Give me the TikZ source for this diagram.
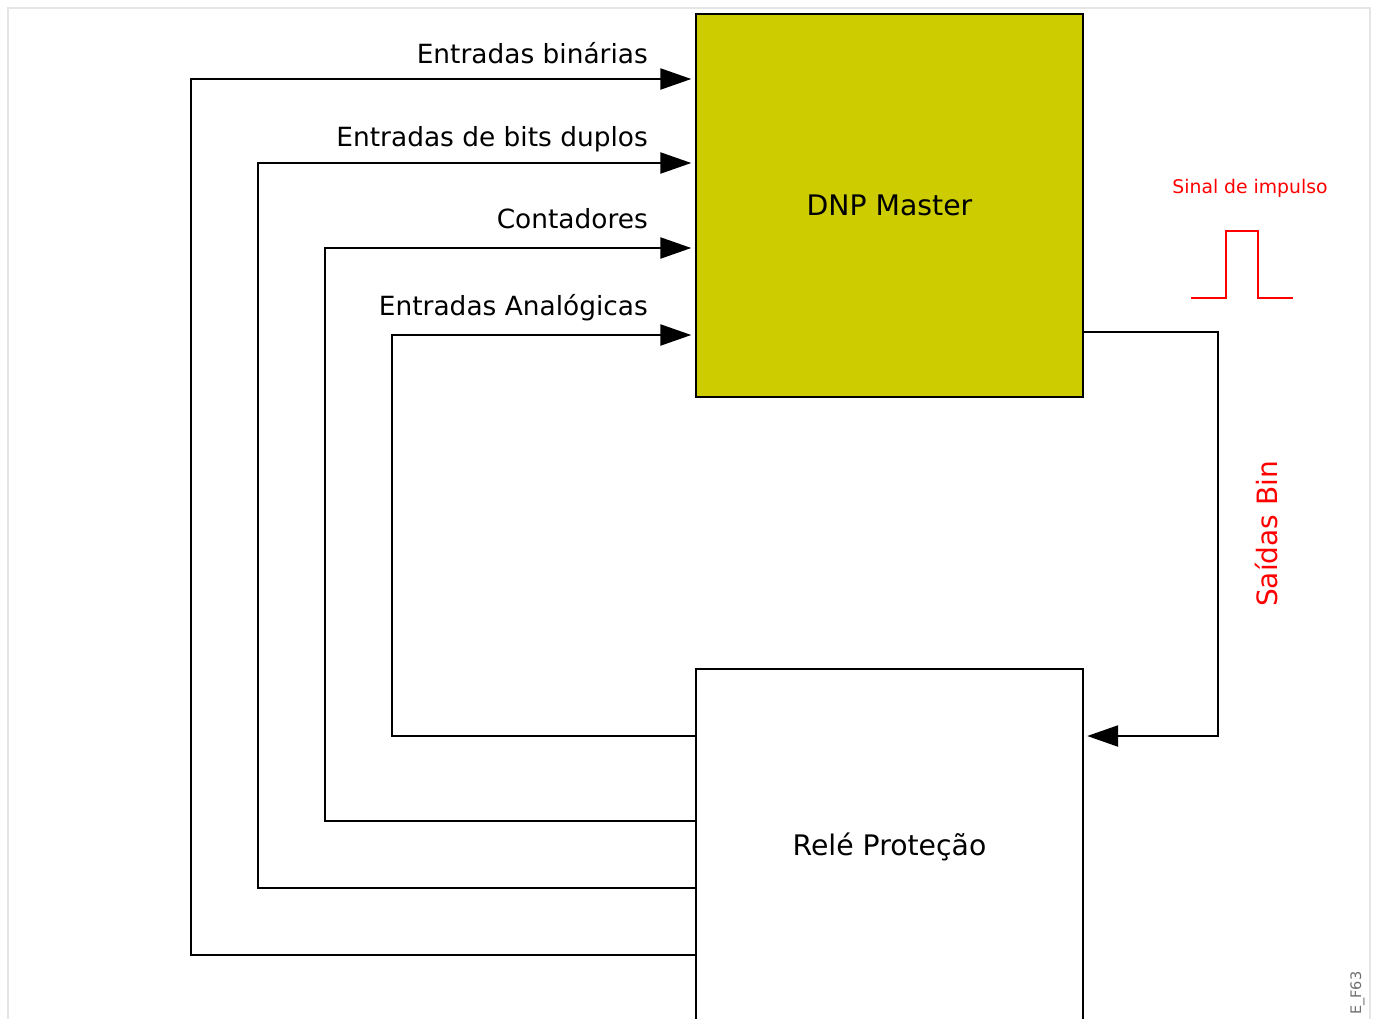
\documentclass[tikz,border=0pt]{standalone}
\usepackage{fontspec}
\setmainfont{DejaVu Sans}
\usetikzlibrary{arrows.meta}
\definecolor{dnpfill}{RGB}{204,204,0}
\definecolor{framegray}{RGB}{229,229,229}
\definecolor{sigred}{RGB}{255,0,0}
\definecolor{codegray}{RGB}{110,110,110}
\begin{document}
\begin{tikzpicture}[x=1pt,y=-1pt,
  wire/.style={line width=2.4pt},
  arr/.style={wire,-{Triangle[length=31pt,width=21pt]},shorten >=3.5pt},
  lbl/.style={anchor=base east,inner sep=0pt,font=\fontsize{26.4}{30}\selectfont},
  boxtxt/.style={font=\fontsize{28.3}{32}\selectfont},
  frame/.style={draw=framegray,line width=2pt}]
\useasboundingbox (0,0) rectangle (1376,1018);
% outer frame
\draw[frame] (8,1030) -- (8,8) -- (1370,8) -- (1370,1030);
% boxes
\node[draw,wire,fill=dnpfill,minimum width=387pt,minimum height=383pt,inner sep=0pt,boxtxt] (dnp) at (889.5,205.5) {DNP Master};
\node[minimum width=387pt,minimum height=356pt,inner sep=0pt,boxtxt] (rele) at (889.5,847) {Relé Proteção};
\draw[wire] (rele.south west) -- (rele.north west) -- (rele.north east) -- (rele.south east);
% left connectors
\coordinate (r1) at (rele.west |- 0,955);
\coordinate (r2) at (rele.west |- 0,888);
\coordinate (r3) at (rele.west |- 0,821);
\coordinate (r4) at (rele.west |- 0,736);
\coordinate (d1) at (dnp.west |- 0,79);
\coordinate (d2) at (dnp.west |- 0,163);
\coordinate (d3) at (dnp.west |- 0,248);
\coordinate (d4) at (dnp.west |- 0,335);
\draw[arr] (r1) -- (191,955) |- (d1);
\draw[arr] (r2) -- (258,888) |- (d2);
\draw[arr] (r3) -- (325,821) |- (d3);
\draw[arr] (r4) -- (392,736) |- (d4);
\node[lbl] (l1) at (648,63) {Entradas binárias};
\node[lbl] (l2) at (648,146) {Entradas de bits duplos};
\node[lbl] (l3) at (648,228) {Contadores};
\node[lbl] (l4) at (648,315) {Entradas Analógicas};
% right connector
\coordinate (dout) at (dnp.east |- 0,332);
\coordinate (rin) at (rele.east |- 0,736);
\draw[wire,-{Triangle[length=31pt,width=21pt]},shorten >=4pt] (dout) -- (1218,332) |- (rin);
\node[rotate=90,text=sigred,font=\fontsize{28}{32}\selectfont,inner sep=0pt] (sb) at (1266,534) {Saídas Bin};
% impulse
\node[anchor=base,text=sigred,font=\fontsize{18.8}{22}\selectfont,inner sep=0pt] (si) at (1250,193) {Sinal de impulso};
\draw[draw=sigred,line width=1.8pt] (1191,298) -- (1226,298) -- (1226,231) -- (1258,231) -- (1258,298) -- (1293,298);
% figure code
\node[rotate=90,anchor=base west,text=codegray,font=\fontsize{14.5}{16}\selectfont,inner sep=0pt] (code) at (1361,1015) {E\_F63};
\end{tikzpicture}
\end{document}
